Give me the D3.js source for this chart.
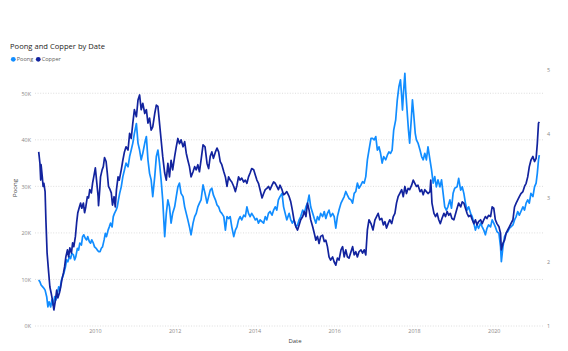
<!DOCTYPE html>
<html>
<head>
<meta charset="utf-8">
<script src="https://cdn.jsdelivr.net/npm/d3@7"></script>
<style>
  html, body { margin: 0; padding: 0; background: #fff; }
  svg { display: block; font-family: "Segoe UI", "Open Sans", sans-serif; }
</style>
</head>
<body>
<div id="chart"></div>
<script>
// Poong (left axis) — [decimal year, value]
const poong = [
  [2008.59, 9900], [2008.62, 9500], [2008.65, 8800], [2008.69, 8400], [2008.72, 8100], [2008.75, 7700],
  [2008.79, 6300], [2008.82, 4100], [2008.85, 5200], [2008.89, 4100], [2008.92, 5600], [2008.95, 4500],
  [2008.99, 6300], [2009.02, 5600], [2009.06, 7000], [2009.09, 8400], [2009.12, 7700], [2009.16, 9900],
  [2009.19, 10600], [2009.22, 11300], [2009.26, 12700], [2009.29, 14200], [2009.32, 13800], [2009.36, 14900],
  [2009.39, 14500], [2009.42, 15600], [2009.46, 15300], [2009.49, 14200], [2009.52, 14900], [2009.56, 16700],
  [2009.59, 16300], [2009.62, 17800], [2009.66, 17400], [2009.69, 19200], [2009.72, 19600], [2009.76, 18800],
  [2009.79, 18500], [2009.82, 19200], [2009.86, 18100], [2009.89, 17800], [2009.92, 18500], [2009.96, 17800],
  [2009.99, 17000], [2010.03, 16700], [2010.06, 16300], [2010.09, 16000], [2010.13, 16000], [2010.16, 16700],
  [2010.19, 17000], [2010.23, 18500], [2010.26, 19900], [2010.29, 19200], [2010.33, 20600], [2010.36, 21300],
  [2010.39, 22100], [2010.43, 21300], [2010.46, 23500], [2010.49, 24200], [2010.53, 24900], [2010.56, 25600],
  [2010.59, 27100], [2010.62, 28500], [2010.66, 29900], [2010.70, 32100], [2010.74, 33500], [2010.78, 35000],
  [2010.83, 34200], [2010.87, 36400], [2010.91, 37800], [2010.95, 39300], [2010.99, 41400], [2011.04, 43500],
  [2011.08, 39300], [2011.12, 37800], [2011.16, 35700], [2011.20, 37100], [2011.25, 39300], [2011.29, 40700],
  [2011.33, 35700], [2011.37, 32800], [2011.41, 31400], [2011.45, 27800], [2011.50, 32100], [2011.54, 36400],
  [2011.58, 37800], [2011.62, 35000], [2011.66, 31400], [2011.70, 27100], [2011.75, 19200], [2011.79, 24200],
  [2011.83, 27100], [2011.87, 25600], [2011.91, 22100], [2011.95, 24200], [2012.00, 25600], [2012.04, 27800],
  [2012.08, 29900], [2012.12, 30700], [2012.16, 28500], [2012.21, 27800], [2012.25, 25600], [2012.29, 24200],
  [2012.33, 22800], [2012.37, 21300], [2012.41, 19600], [2012.46, 22100], [2012.50, 23500], [2012.54, 24200],
  [2012.58, 25600], [2012.62, 26400], [2012.66, 27100], [2012.71, 30300], [2012.76, 28500], [2012.81, 26400],
  [2012.85, 27800], [2012.89, 29200], [2012.93, 29600], [2012.97, 28100], [2013.02, 27100], [2013.06, 26000],
  [2013.10, 25600], [2013.14, 24600], [2013.18, 24200], [2013.23, 23500], [2013.27, 20600], [2013.31, 23500],
  [2013.35, 23100], [2013.39, 23500], [2013.43, 21300], [2013.48, 19200], [2013.52, 20600], [2013.56, 21300],
  [2013.60, 22800], [2013.64, 23500], [2013.68, 22800], [2013.73, 23800], [2013.77, 23500], [2013.81, 25600],
  [2013.85, 24200], [2013.89, 23500], [2013.93, 24200], [2013.98, 23500], [2014.02, 22800], [2014.06, 23100],
  [2014.10, 22100], [2014.14, 22800], [2014.19, 22400], [2014.23, 22100], [2014.27, 23500], [2014.31, 22800],
  [2014.35, 24200], [2014.39, 24600], [2014.44, 23800], [2014.48, 24900], [2014.52, 25600], [2014.56, 24900],
  [2014.60, 27100], [2014.64, 27800], [2014.69, 28500], [2014.73, 25600], [2014.77, 24200], [2014.81, 22800],
  [2014.87, 24200], [2014.91, 22800], [2014.95, 22100], [2014.99, 22800], [2015.04, 21300], [2015.08, 21700],
  [2015.12, 22800], [2015.16, 23500], [2015.21, 24900], [2015.25, 24200], [2015.29, 25600], [2015.33, 26400],
  [2015.37, 28100], [2015.41, 25600], [2015.46, 24200], [2015.50, 23100], [2015.54, 22100], [2015.58, 23500],
  [2015.62, 22800], [2015.66, 24200], [2015.71, 23500], [2015.75, 24600], [2015.79, 23100], [2015.83, 24200],
  [2015.87, 24900], [2015.91, 23500], [2015.96, 24200], [2016.00, 23500], [2016.04, 21000], [2016.08, 23500],
  [2016.12, 24900], [2016.17, 26400], [2016.21, 27100], [2016.25, 27800], [2016.29, 28900], [2016.33, 28100],
  [2016.37, 27400], [2016.42, 27100], [2016.46, 26400], [2016.50, 28500], [2016.54, 28900], [2016.58, 30700],
  [2016.62, 29600], [2016.67, 30300], [2016.71, 31000], [2016.75, 30700], [2016.79, 32100], [2016.83, 35700],
  [2016.87, 37800], [2016.92, 40300], [2016.96, 40300], [2017.00, 40000], [2017.04, 40700], [2017.08, 37800],
  [2017.12, 38500], [2017.16, 37100], [2017.20, 35000], [2017.24, 36400], [2017.29, 35700], [2017.33, 36700],
  [2017.37, 37400], [2017.41, 37100], [2017.45, 37800], [2017.49, 42100], [2017.54, 44300], [2017.58, 48600],
  [2017.62, 51400], [2017.66, 52900], [2017.69, 49300], [2017.71, 46400], [2017.74, 50700], [2017.77, 54300],
  [2017.79, 50700], [2017.83, 45700], [2017.86, 42100], [2017.89, 39300], [2017.93, 44300], [2017.96, 48600],
  [2017.99, 45700], [2018.03, 41400], [2018.06, 40000], [2018.10, 39300], [2018.15, 37800], [2018.19, 36400],
  [2018.23, 35700], [2018.27, 37100], [2018.31, 35700], [2018.35, 38500], [2018.40, 35700], [2018.44, 33500],
  [2018.48, 30700], [2018.52, 32100], [2018.56, 29900], [2018.60, 31400], [2018.65, 29900], [2018.69, 31400],
  [2018.73, 28500], [2018.77, 25600], [2018.81, 24900], [2018.85, 25600], [2018.90, 27100], [2018.94, 25300],
  [2018.98, 28500], [2019.02, 29600], [2019.08, 29900], [2019.12, 31700], [2019.17, 29200], [2019.21, 29900],
  [2019.25, 28500], [2019.29, 26400], [2019.33, 24900], [2019.37, 25600], [2019.42, 24200], [2019.46, 23500],
  [2019.50, 22100], [2019.54, 20600], [2019.58, 21700], [2019.62, 21000], [2019.67, 22100], [2019.71, 21300],
  [2019.75, 20600], [2019.79, 19600], [2019.83, 21000], [2019.87, 21700], [2019.92, 21300], [2019.96, 22800],
  [2020.00, 22100], [2020.04, 21300], [2020.08, 20300], [2020.13, 19900], [2020.17, 17000], [2020.19, 13800],
  [2020.23, 17000], [2020.27, 19200], [2020.31, 19900], [2020.35, 20300], [2020.39, 21000], [2020.43, 21300],
  [2020.48, 21700], [2020.52, 22800], [2020.56, 23500], [2020.60, 24600], [2020.64, 23800], [2020.68, 24600],
  [2020.73, 25600], [2020.77, 24900], [2020.81, 26400], [2020.85, 27100], [2020.89, 26400], [2020.93, 28500],
  [2020.98, 27800], [2021.02, 29900], [2021.06, 30700], [2021.09, 32800], [2021.12, 35700], [2021.14, 36700]
]

// Copper (right axis) — [decimal year, value]
const copper = [
  [2008.59, 3.72], [2008.62, 3.55], [2008.64, 3.28], [2008.65, 3.52], [2008.68, 3.33], [2008.70, 3.18],
  [2008.72, 3.23], [2008.75, 3.10], [2008.77, 2.66], [2008.80, 2.14], [2008.84, 1.83], [2008.87, 1.61],
  [2008.90, 1.52], [2008.94, 1.38], [2008.97, 1.25], [2009.01, 1.41], [2009.04, 1.56], [2009.07, 1.44],
  [2009.11, 1.52], [2009.14, 1.61], [2009.17, 1.72], [2009.21, 1.83], [2009.24, 1.93], [2009.27, 2.08],
  [2009.31, 2.19], [2009.34, 2.08], [2009.37, 2.22], [2009.41, 2.14], [2009.44, 2.30], [2009.47, 2.24],
  [2009.51, 2.40], [2009.54, 2.61], [2009.57, 2.77], [2009.61, 2.86], [2009.64, 2.92], [2009.67, 2.84],
  [2009.71, 2.92], [2009.74, 2.77], [2009.77, 2.86], [2009.81, 3.02], [2009.84, 3.00], [2009.87, 3.13],
  [2009.91, 3.08], [2009.94, 3.23], [2009.97, 3.33], [2010.01, 3.47], [2010.04, 3.28], [2010.08, 3.02],
  [2010.09, 2.88], [2010.12, 3.13], [2010.14, 3.33], [2010.18, 3.44], [2010.21, 3.49], [2010.24, 3.63],
  [2010.28, 3.57], [2010.31, 3.39], [2010.34, 3.18], [2010.38, 3.13], [2010.41, 3.08], [2010.44, 2.89],
  [2010.48, 3.02], [2010.51, 2.86], [2010.54, 3.13], [2010.58, 3.33], [2010.61, 3.28], [2010.66, 3.44],
  [2010.70, 3.59], [2010.74, 3.72], [2010.78, 3.80], [2010.83, 3.75], [2010.87, 4.01], [2010.91, 3.93],
  [2010.95, 4.17], [2010.99, 4.38], [2011.04, 4.27], [2011.08, 4.53], [2011.12, 4.61], [2011.16, 4.38],
  [2011.20, 4.48], [2011.25, 4.32], [2011.29, 4.38], [2011.33, 4.17], [2011.37, 4.25], [2011.41, 4.06],
  [2011.45, 4.11], [2011.50, 4.32], [2011.54, 4.45], [2011.58, 4.43], [2011.62, 4.17], [2011.66, 3.91],
  [2011.70, 3.65], [2011.75, 3.39], [2011.79, 3.28], [2011.83, 3.54], [2011.87, 3.33], [2011.91, 3.59],
  [2011.95, 3.44], [2012.00, 3.65], [2012.04, 3.80], [2012.08, 3.93], [2012.12, 3.85], [2012.16, 3.91],
  [2012.21, 3.80], [2012.25, 3.88], [2012.29, 3.70], [2012.33, 3.59], [2012.37, 3.49], [2012.41, 3.33],
  [2012.46, 3.41], [2012.50, 3.49], [2012.54, 3.44], [2012.58, 3.52], [2012.62, 3.41], [2012.66, 3.59],
  [2012.71, 3.83], [2012.76, 3.80], [2012.81, 3.54], [2012.85, 3.46], [2012.89, 3.65], [2012.93, 3.72],
  [2012.97, 3.62], [2013.02, 3.72], [2013.06, 3.78], [2013.10, 3.72], [2013.14, 3.57], [2013.18, 3.52],
  [2013.23, 3.41], [2013.27, 3.33], [2013.31, 3.18], [2013.35, 3.33], [2013.39, 3.28], [2013.43, 3.25],
  [2013.48, 3.18], [2013.52, 3.10], [2013.56, 3.20], [2013.60, 3.33], [2013.64, 3.28], [2013.68, 3.31],
  [2013.73, 3.25], [2013.77, 3.28], [2013.81, 3.23], [2013.85, 3.33], [2013.89, 3.39], [2013.93, 3.46],
  [2013.98, 3.44], [2014.02, 3.36], [2014.06, 3.28], [2014.10, 3.23], [2014.14, 3.13], [2014.19, 3.00],
  [2014.23, 3.07], [2014.27, 3.13], [2014.31, 3.15], [2014.35, 3.18], [2014.39, 3.13], [2014.44, 3.20],
  [2014.48, 3.25], [2014.52, 3.23], [2014.56, 3.18], [2014.60, 3.13], [2014.64, 3.20], [2014.69, 3.13],
  [2014.73, 3.05], [2014.77, 3.07], [2014.81, 3.10], [2014.87, 3.02], [2014.91, 2.94], [2014.95, 2.81],
  [2014.99, 2.66], [2015.04, 2.55], [2015.08, 2.50], [2015.12, 2.58], [2015.16, 2.66], [2015.21, 2.71],
  [2015.25, 2.79], [2015.29, 2.71], [2015.33, 2.92], [2015.37, 2.81], [2015.41, 2.66], [2015.46, 2.55],
  [2015.50, 2.45], [2015.54, 2.34], [2015.58, 2.40], [2015.62, 2.29], [2015.66, 2.40], [2015.71, 2.42],
  [2015.75, 2.32], [2015.79, 2.34], [2015.83, 2.24], [2015.87, 2.08], [2015.91, 2.03], [2015.96, 2.08],
  [2016.00, 2.00], [2016.04, 1.95], [2016.08, 2.06], [2016.12, 2.03], [2016.17, 2.19], [2016.21, 2.24],
  [2016.25, 2.08], [2016.29, 2.19], [2016.33, 2.08], [2016.37, 2.06], [2016.42, 2.16], [2016.46, 2.24],
  [2016.50, 2.11], [2016.54, 2.16], [2016.58, 2.08], [2016.62, 2.16], [2016.67, 2.19], [2016.71, 2.14],
  [2016.75, 2.19], [2016.79, 2.11], [2016.83, 2.50], [2016.87, 2.66], [2016.92, 2.60], [2016.97, 2.50],
  [2017.02, 2.66], [2017.06, 2.71], [2017.10, 2.76], [2017.14, 2.66], [2017.19, 2.68], [2017.23, 2.58],
  [2017.27, 2.63], [2017.31, 2.53], [2017.35, 2.60], [2017.39, 2.66], [2017.44, 2.60], [2017.48, 2.71],
  [2017.52, 2.76], [2017.56, 2.92], [2017.60, 3.02], [2017.64, 3.07], [2017.69, 3.13], [2017.73, 3.02],
  [2017.77, 3.18], [2017.81, 3.07], [2017.85, 3.15], [2017.89, 3.13], [2017.94, 3.20], [2017.98, 3.28],
  [2018.02, 3.23], [2018.06, 3.18], [2018.10, 3.20], [2018.15, 3.10], [2018.19, 3.13], [2018.23, 3.05],
  [2018.27, 3.13], [2018.31, 3.10], [2018.35, 3.07], [2018.40, 3.10], [2018.42, 3.28], [2018.45, 2.92],
  [2018.50, 2.76], [2018.54, 2.71], [2018.58, 2.76], [2018.62, 2.66], [2018.66, 2.60], [2018.70, 2.68],
  [2018.75, 2.76], [2018.79, 2.71], [2018.83, 2.79], [2018.87, 2.73], [2018.91, 2.76], [2018.95, 2.68],
  [2019.00, 2.66], [2019.08, 2.84], [2019.12, 2.92], [2019.17, 2.86], [2019.21, 2.94], [2019.25, 2.92],
  [2019.29, 2.84], [2019.33, 2.76], [2019.37, 2.71], [2019.42, 2.73], [2019.46, 2.66], [2019.50, 2.60],
  [2019.54, 2.66], [2019.58, 2.58], [2019.62, 2.63], [2019.67, 2.66], [2019.71, 2.60], [2019.75, 2.66],
  [2019.79, 2.71], [2019.83, 2.68], [2019.87, 2.73], [2019.92, 2.71], [2019.96, 2.86], [2020.00, 2.84],
  [2020.04, 2.66], [2020.08, 2.60], [2020.13, 2.55], [2020.17, 2.45], [2020.19, 2.19], [2020.23, 2.29],
  [2020.27, 2.34], [2020.31, 2.45], [2020.35, 2.50], [2020.39, 2.55], [2020.43, 2.60], [2020.48, 2.66],
  [2020.52, 2.86], [2020.56, 2.92], [2020.60, 2.97], [2020.64, 3.02], [2020.68, 3.07], [2020.73, 3.10],
  [2020.77, 3.18], [2020.81, 3.23], [2020.85, 3.33], [2020.89, 3.49], [2020.93, 3.59], [2020.98, 3.65],
  [2021.02, 3.57], [2021.06, 3.62], [2021.09, 3.85], [2021.12, 4.17], [2021.14, 4.19]
]

// Axes
const leftTicks  = [0, 10000, 20000, 30000, 40000, 50000]
const leftMax    = 55000
const rightTicks = [1, 2, 3, 4, 5]
const xTickYears = [2010, 2012, 2014, 2016, 2018, 2020]

const series = [
  { name: 'Poong',  color: '#118DFF', data: poong },
  { name: 'Copper', color: '#12239E', data: copper },
]

const COLORS = {
  title:  '#252423',
  legend: '#605E5C',
  tick:   '#8a8886',
  axisTitle: '#444',
  grid:   '#d6d6d6',
}
const FONT = '"Segoe UI", "Open Sans", sans-serif'

// décimale → Date UTC
function decYear(t) {
  const y = Math.floor(t)
  const a = Date.UTC(y, 0, 1), b = Date.UTC(y + 1, 0, 1)
  return new Date(a + (t - y) * (b - a))
}

const width = 568, height = 351
const m = { top: 70, right: 28.7, bottom: 25, left: 38.7 }

const svg = d3.select('#chart').append('svg')
  .attr('width', width).attr('height', height)

// Titre
svg.append('text')
  .attr('x', 10).attr('y', 49)
  .attr('fill', COLORS.title)
  .attr('font-size', 7.6)
  .text('Poong and Copper by Date')

// Légende
let lx = 13.3
series.forEach(s => {
  svg.append('circle').attr('cx', lx).attr('cy', 59.3).attr('r', 2.4).attr('fill', s.color)
  const t = svg.append('text')
    .attr('x', lx + 3.4).attr('y', 61.3)
    .attr('fill', COLORS.legend)
    .attr('font-size', 5.6)
    .text(s.name)
  lx += 3.4 + t.node().getComputedTextLength() + 5
})

// Scales
const allDates = poong.map(d => decYear(d[0])).concat(copper.map(d => decYear(d[0])))
const x = d3.scaleUtc()
  .domain(d3.extent(allDates))
  .range([m.left, width - m.right])

const yL = d3.scaleLinear().domain([0, leftMax]).range([height - m.bottom, m.top])
const yR = d3.scaleLinear().domain([1, 5]).range([height - m.bottom, m.top])

// Grille pointillée
svg.append('g')
  .selectAll('line')
  .data(leftTicks)
  .join('line')
  .attr('x1', 35).attr('x2', 543)
  .attr('y1', d => yL(d)).attr('y2', d => yL(d))
  .attr('stroke', COLORS.grid)
  .attr('stroke-width', 0.8)
  .attr('stroke-dasharray', '1 1.6')

const styleTicks = g => g.selectAll('.tick text')
  .attr('fill', COLORS.tick).attr('font-size', 5.4).attr('font-family', FONT)

// Axe gauche
svg.append('g')
  .attr('transform', `translate(31,0)`)
  .call(d3.axisLeft(yL).tickValues(leftTicks).tickSize(0).tickPadding(0)
    .tickFormat(d => (d / 1000) + 'K'))
  .call(g => g.select('.domain').remove())
  .call(styleTicks)

// Axe droit
svg.append('g')
  .attr('transform', `translate(547,0)`)
  .call(d3.axisRight(yR).tickValues(rightTicks).tickSize(0).tickPadding(0)
    .tickFormat(d3.format('d')))
  .call(g => g.select('.domain').remove())
  .call(styleTicks)

// Axe X
svg.append('g')
  .attr('transform', `translate(0,${height - m.bottom})`)
  .call(d3.axisBottom(x)
    .tickValues(xTickYears.map(y => new Date(Date.UTC(y, 0, 1))))
    .tickSize(0).tickPadding(3)
    .tickFormat(d3.utcFormat('%Y')))
  .call(g => g.select('.domain').remove())
  .call(styleTicks)

// Titres d'axes
svg.append('text')
  .attr('x', 295).attr('y', 343)
  .attr('text-anchor', 'middle')
  .attr('fill', COLORS.axisTitle)
  .attr('font-size', 6)
  .text('Date')

svg.append('text')
  .attr('transform', 'rotate(-90)')
  .attr('x', -188).attr('y', 17)
  .attr('text-anchor', 'middle')
  .attr('fill', COLORS.axisTitle)
  .attr('font-size', 6)
  .text('Poong')

// Lignes
const lineL = d3.line().x(d => x(decYear(d[0]))).y(d => yL(d[1]))
const lineR = d3.line().x(d => x(decYear(d[0]))).y(d => yR(d[1]))

svg.append('path')
  .datum(poong)
  .attr('d', lineL)
  .attr('fill', 'none')
  .attr('stroke', series[0].color)
  .attr('stroke-width', 1.7)
  .attr('stroke-linejoin', 'round')

svg.append('path')
  .datum(copper)
  .attr('d', lineR)
  .attr('fill', 'none')
  .attr('stroke', series[1].color)
  .attr('stroke-width', 1.7)
  .attr('stroke-linejoin', 'round')
</script>
</body>
</html>
